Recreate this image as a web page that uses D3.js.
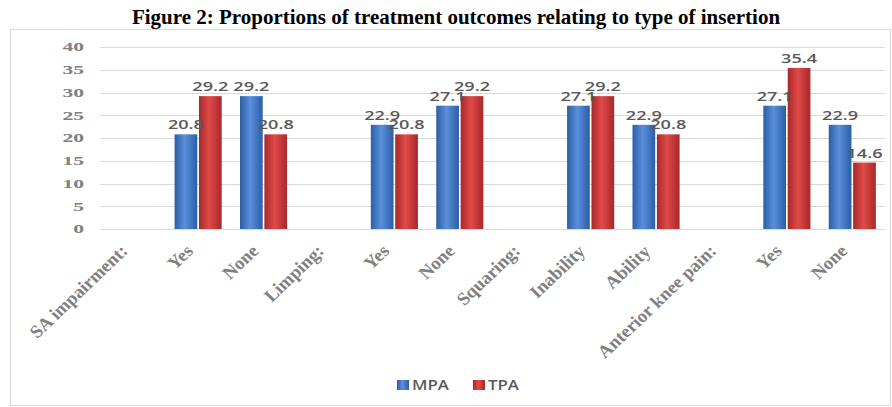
<!DOCTYPE html>
<html><head><meta charset="utf-8">
<script src="https://cdn.jsdelivr.net/npm/d3@7/dist/d3.min.js"></script>
<style>body{margin:0;background:#fff;}svg{display:block;}</style>
</head><body>
<svg id="c" width="892" height="407"></svg>
<script>
const categories = ["SA impairment:", "Yes", "None", "Limping:", "Yes", "None", "Squaring:", "Inability", "Ability", "Anterior knee pain:", "Yes", "None"];
const mpaValues = [null, 20.8, 29.2, null, 22.9, 27.1, null, 27.1, 22.9, null, 27.1, 22.9];
const tpaValues = [null, 29.2, 20.8, null, 20.8, 29.2, null, 29.2, 20.8, null, 35.4, 14.6];
const seriesNames = ["MPA", "TPA"];
const yTicks = [0, 5, 10, 15, 20, 25, 30, 35, 40];
const title = "Figure 2: Proportions of treatment outcomes relating to type of insertion";

const svg = d3.select("#c");
const defs = svg.append("defs");
function grad(id, edge, mid) {
  const g = defs.append("linearGradient").attr("id", id).attr("x1", "0").attr("x2", "1").attr("y1", "0").attr("y2", "0");
  g.append("stop").attr("offset", "0%").attr("stop-color", edge);
  g.append("stop").attr("offset", "45%").attr("stop-color", mid);
  g.append("stop").attr("offset", "100%").attr("stop-color", edge);
}
grad("gBlue", "#2c5ea6", "#5a8fdc");
grad("gRed", "#a8282a", "#e04a48");
const fills = ["url(#gBlue)", "url(#gRed)"];
const serif = "Liberation Serif, Times New Roman, serif";
const sans = "Open Sans, sans-serif";

// chart frame
svg.append("rect").attr("x", 10.5).attr("y", 29.5).attr("width", 880).attr("height", 376)
  .attr("fill", "#fff").attr("stroke", "#d9d9d9");

svg.append("text").attr("x", 456).attr("y", 24).attr("text-anchor", "middle")
  .attr("font-family", serif).attr("font-weight", "bold")
  .attr("font-size", 21).attr("fill", "#000").text(title);

const x = d3.scaleBand().domain(d3.range(categories.length)).range([100, 885]).paddingInner(0.28).paddingOuter(0.14);
const x1 = d3.scaleBand().domain([0, 1]).range([0, x.bandwidth()]).paddingInner(0.07);
const y = d3.scaleLinear().domain([0, 40]).range([229, 47]);

// grid
svg.append("g").selectAll("line").data(yTicks).join("line")
  .attr("x1", 100).attr("x2", 885).attr("y1", d => Math.round(y(d)) + 0.5).attr("y2", d => Math.round(y(d)) + 0.5)
  .attr("stroke", "#d9d9d9").attr("stroke-width", 1);

// y axis labels
const yAxis = d3.axisLeft(y).tickValues(yTicks).tickSize(0).tickPadding(0);
const ya = svg.append("g").attr("transform", "translate(84,0)").call(yAxis);
ya.select(".domain").remove();
ya.selectAll("text").attr("x", 0).attr("transform", "scale(1.8,1)")
  .attr("font-family", serif).attr("font-weight", "bold")
  .attr("font-size", 12).attr("fill", "#808080");

// bars
const series = [mpaValues, tpaValues];
const data = [];
series.forEach((vals, s) => vals.forEach((v, i) => { if (v !== null) data.push({ i, s, v }); }));
svg.append("g").selectAll("rect").data(data).join("rect")
  .attr("x", d => x(d.i) + x1(d.s)).attr("width", x1.bandwidth())
  .attr("y", d => y(d.v)).attr("height", d => y(0) - y(d.v))
  .attr("fill", d => fills[d.s]);

svg.append("g").selectAll("text").data(data).join("text")
  .attr("transform", d => `translate(${x(d.i) + x1(d.s) + x1.bandwidth() / 2},${y(d.v) - 5}) scale(1.45,1)`)
  .attr("text-anchor", "middle").attr("font-family", sans).attr("font-weight", 600)
  .attr("font-size", 12.5).attr("fill", "#595959").text(d => d.v.toFixed(1));

// x axis labels
const SX = 1.05;
const xAxis = d3.axisBottom(x).tickFormat(i => categories[i]).tickSize(0).tickPadding(0);
const xa = svg.append("g").attr("transform", "translate(0,247)").call(xAxis);
xa.select(".domain").remove();
xa.selectAll("text").attr("text-anchor", "end").attr("x", 0).attr("y", 0).attr("dy", "0.35em")
  .attr("transform", `scale(${SX},1) rotate(-45)`)
  .attr("font-family", serif).attr("font-weight", "bold")
  .attr("font-size", 18).attr("fill", "#808080");
// align each rotated label so its top-right corner sits just left of / below its tick
xa.selectAll(".tick").each(function (i) {
  const t = d3.select(this).select("text");
  const r = this.getBoundingClientRect();
  const cx = x(i) + x.bandwidth() / 2;
  const dx = (cx - 1) - r.right;
  const dy = 241 - r.top;
  t.attr("transform", `translate(${dx},${dy}) scale(${SX},1) rotate(-45)`);
});

// legend
const leg = svg.append("g").attr("transform", "translate(397,385)");
seriesNames.forEach((n, k) => {
  const g = leg.append("g").attr("transform", `translate(${k * 76},0)`);
  g.append("rect").attr("x", 0).attr("y", -5).attr("width", 12).attr("height", 10).attr("fill", fills[k]);
  g.append("text").attr("transform", "translate(15,0) scale(1.2,1)").attr("dy", "0.35em").attr("font-family", sans)
    .attr("font-weight", 600).attr("font-size", 14).attr("fill", "#595959").text(n);
});
</script>
</body></html>
